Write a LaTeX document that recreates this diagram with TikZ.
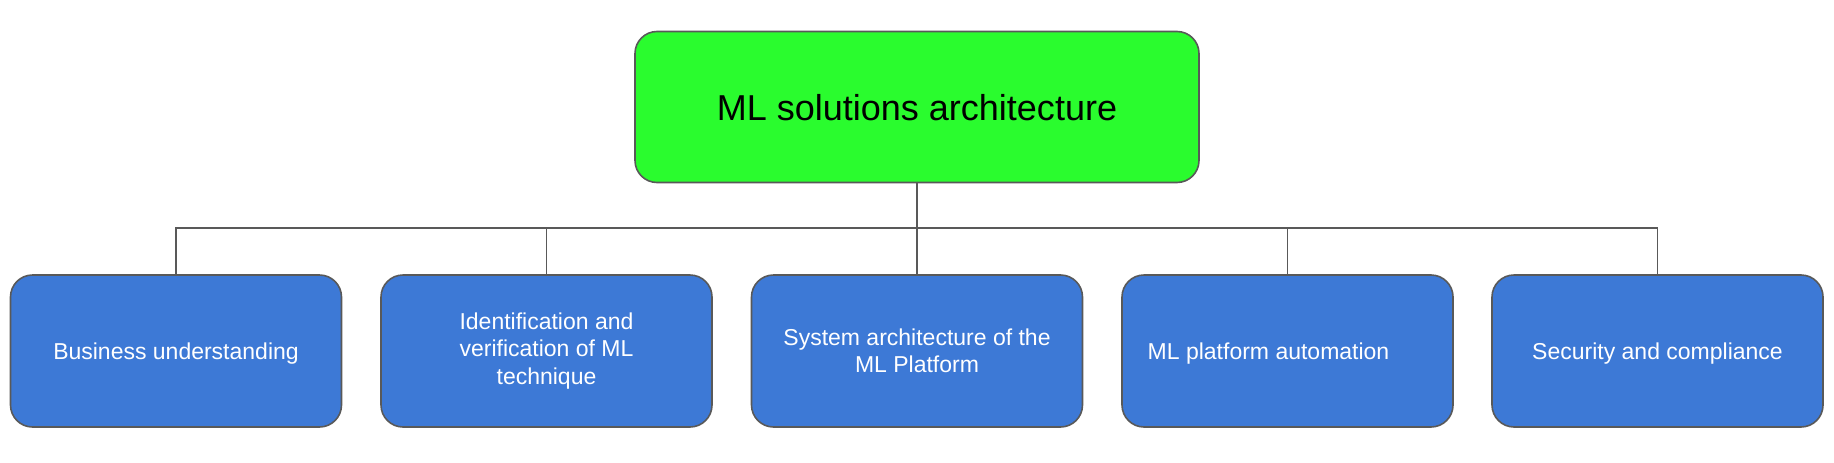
\documentclass[tikz,border=0pt]{standalone}
\usepackage{fontspec}
\setmainfont{Liberation Sans}
\usepackage{tikz}
\usetikzlibrary{positioning}
\definecolor{rootgreen}{RGB}{42,252,46}
\definecolor{leafblue}{RGB}{61,121,214}
\definecolor{edgegray}{RGB}{89,89,89}

\begin{document}
\begin{tikzpicture}[x=1pt,y=1pt,
  rootbox/.style={draw=edgegray,line width=0.8pt,fill=rootgreen,rounded corners=11pt,
    minimum width=282pt,minimum height=75.5pt,text depth=0pt,font=\fontsize{18}{21.6}\selectfont},
  leafbox/.style={draw=edgegray,line width=0.8pt,fill=leafblue,rounded corners=11pt,
    minimum width=165.5pt,minimum height=76pt,text=white,align=center,
    font=\fontsize{11.5}{13.6}\selectfont},
  oneline/.style={leafbox,text depth=0pt},
  wire/.style={draw=edgegray,line width=0.8pt}]
  \useasboundingbox (0,0) rectangle (917,231);
  \node[rootbox] (root) at (458.5,177.5) {ML solutions architecture};
  \coordinate (bus) at (458.5,117);
  \node[oneline] (biz) at (88,55.5) {Business understanding};
  \node[leafbox] (tech) at (273.25,55.5) {Identification and\\verification of ML\\technique};
  \node[leafbox] (sys) at (458.5,55.5) {System architecture of the\\ML Platform};
  \node[oneline] (auto) at (643.75,55.5) {\hspace*{-19pt}ML platform automation};
  \node[oneline] (sec) at (828.75,55.5) {Security and compliance};
  \draw[wire] (root.south) -- (bus);
  \draw[wire] (bus) -| (biz.north);
  \draw[wire] (bus) -| (tech.north);
  \draw[wire] (bus) -- (sys.north);
  \draw[wire] (bus) -| (auto.north);
  \draw[wire] (bus) -| (sec.north);
\end{tikzpicture}
\end{document}
